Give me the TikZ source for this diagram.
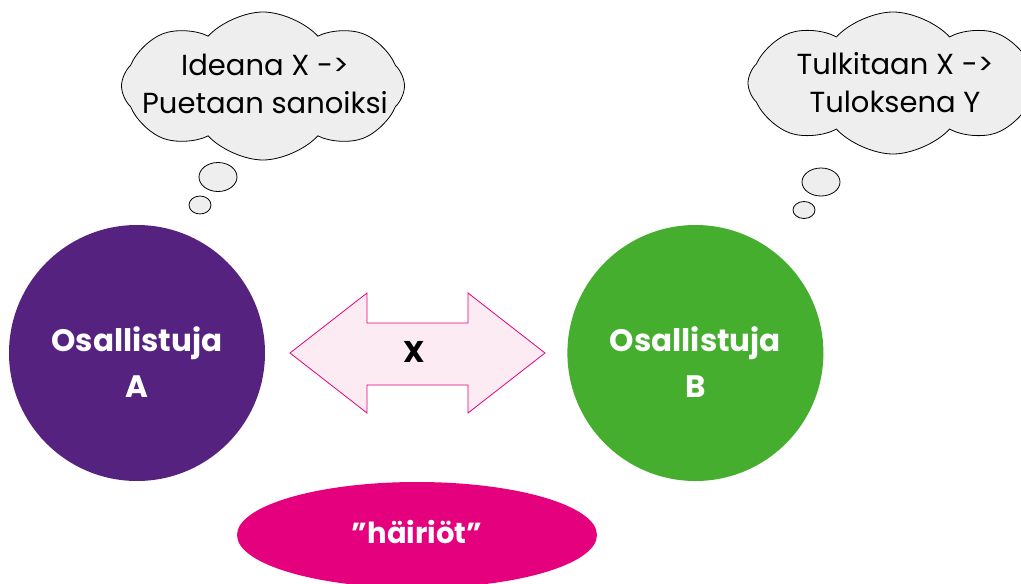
\documentclass[tikz,border=0pt]{standalone}
\usepackage{fontspec}
\setmainfont{Poppins}
\usetikzlibrary{shapes.symbols,shapes.geometric,positioning}
\definecolor{violetti}{HTML}{55237F}
\definecolor{vihrea}{HTML}{45AE2F}
\definecolor{magenta}{HTML}{E5007E}
\definecolor{vaaleapinkki}{HTML}{FCEBF3}
\definecolor{pilvi}{HTML}{EEEEEE}
\tikzset{
  %Define style for participants
  osallistuja/.style={
    circle,
    minimum size=256pt,
    inner sep=0pt},
  nimi/.style={
    text=white,
    align=center,
    font=\bfseries\fontsize{31}{46}\selectfont},
  %Define style for thought clouds
  ajatus/.style={
    cloud,
    cloud puffs=8,
    cloud puff arc=95,
    aspect=1.9,
    draw=black, thick,
    fill=pilvi,
    inner sep=0pt},
  ajatusteksti/.style={
    align=center,
    font=\fontsize{29}{38}\selectfont},
  % Define style for small bubbles
  kupla/.style={
    ellipse,
    draw=black, thick,
    fill=pilvi,
    inner sep=0pt}
}

\begin{document}
\begin{tikzpicture}[x=1pt,y=-1pt]
  \useasboundingbox (0,0) rectangle (1021,584);
  % participants
  \node[osallistuja, fill=violetti] (A) at (137,353) {};
  \node[osallistuja, fill=vihrea, right=302pt of A] (B) {};
  \node[nimi] (nimiA) at ([yshift=-9pt]A.center) {Osallistuja\\A};
  \node[nimi] (nimiB) at ([yshift=-9pt]B.center) {Osallistuja\\B};
  % message
  \draw[magenta, fill=vaaleapinkki, line width=0.8pt]
    (290,353) -- (367,293) -- (367,323) -- (468,323) -- (468,293) -- (545,353)
    -- (468,413) -- (468,385) -- (367,385) -- (367,413) -- cycle;
  \node[font=\bfseries\fontsize{30}{34}\selectfont] (viesti) at (414,352) {X};
  % noise
  \node[ellipse, fill=magenta, minimum width=360pt, minimum height=106pt,
    text=white, font=\bfseries\fontsize{29}{34}\selectfont] (hairiot) at (417,535) {};
  \node[text=white, font=\bfseries\fontsize{29}{34}\selectfont] (hairioteksti) at (417,532) {”häiriöt”};
  % thoughts
  \node[ajatus, minimum width=283pt, minimum height=148pt] (ajatusA) at (263,86) {};
  \node[ajatusteksti] (tekstiA) at (265,84) {Ideana X ->\\Puetaan sanoiksi};
  \node[kupla, minimum width=38pt, minimum height=29pt] (kA1) at (218,177) {};
  \node[kupla, minimum width=22pt, minimum height=18pt] (kA2) at (200,205) {};
  \node[ajatus, minimum width=290pt, minimum height=142pt] (ajatusB) at (893,83) {};
  \node[ajatusteksti] (tekstiB) at (895,83) {Tulkitaan X ->\\Tuloksena Y};
  \node[kupla, minimum width=38pt, minimum height=28pt] (kB1) at (821,182) {};
  \node[kupla, minimum width=22pt, minimum height=17pt] (kB2) at (804,210) {};
\end{tikzpicture}
\end{document}
